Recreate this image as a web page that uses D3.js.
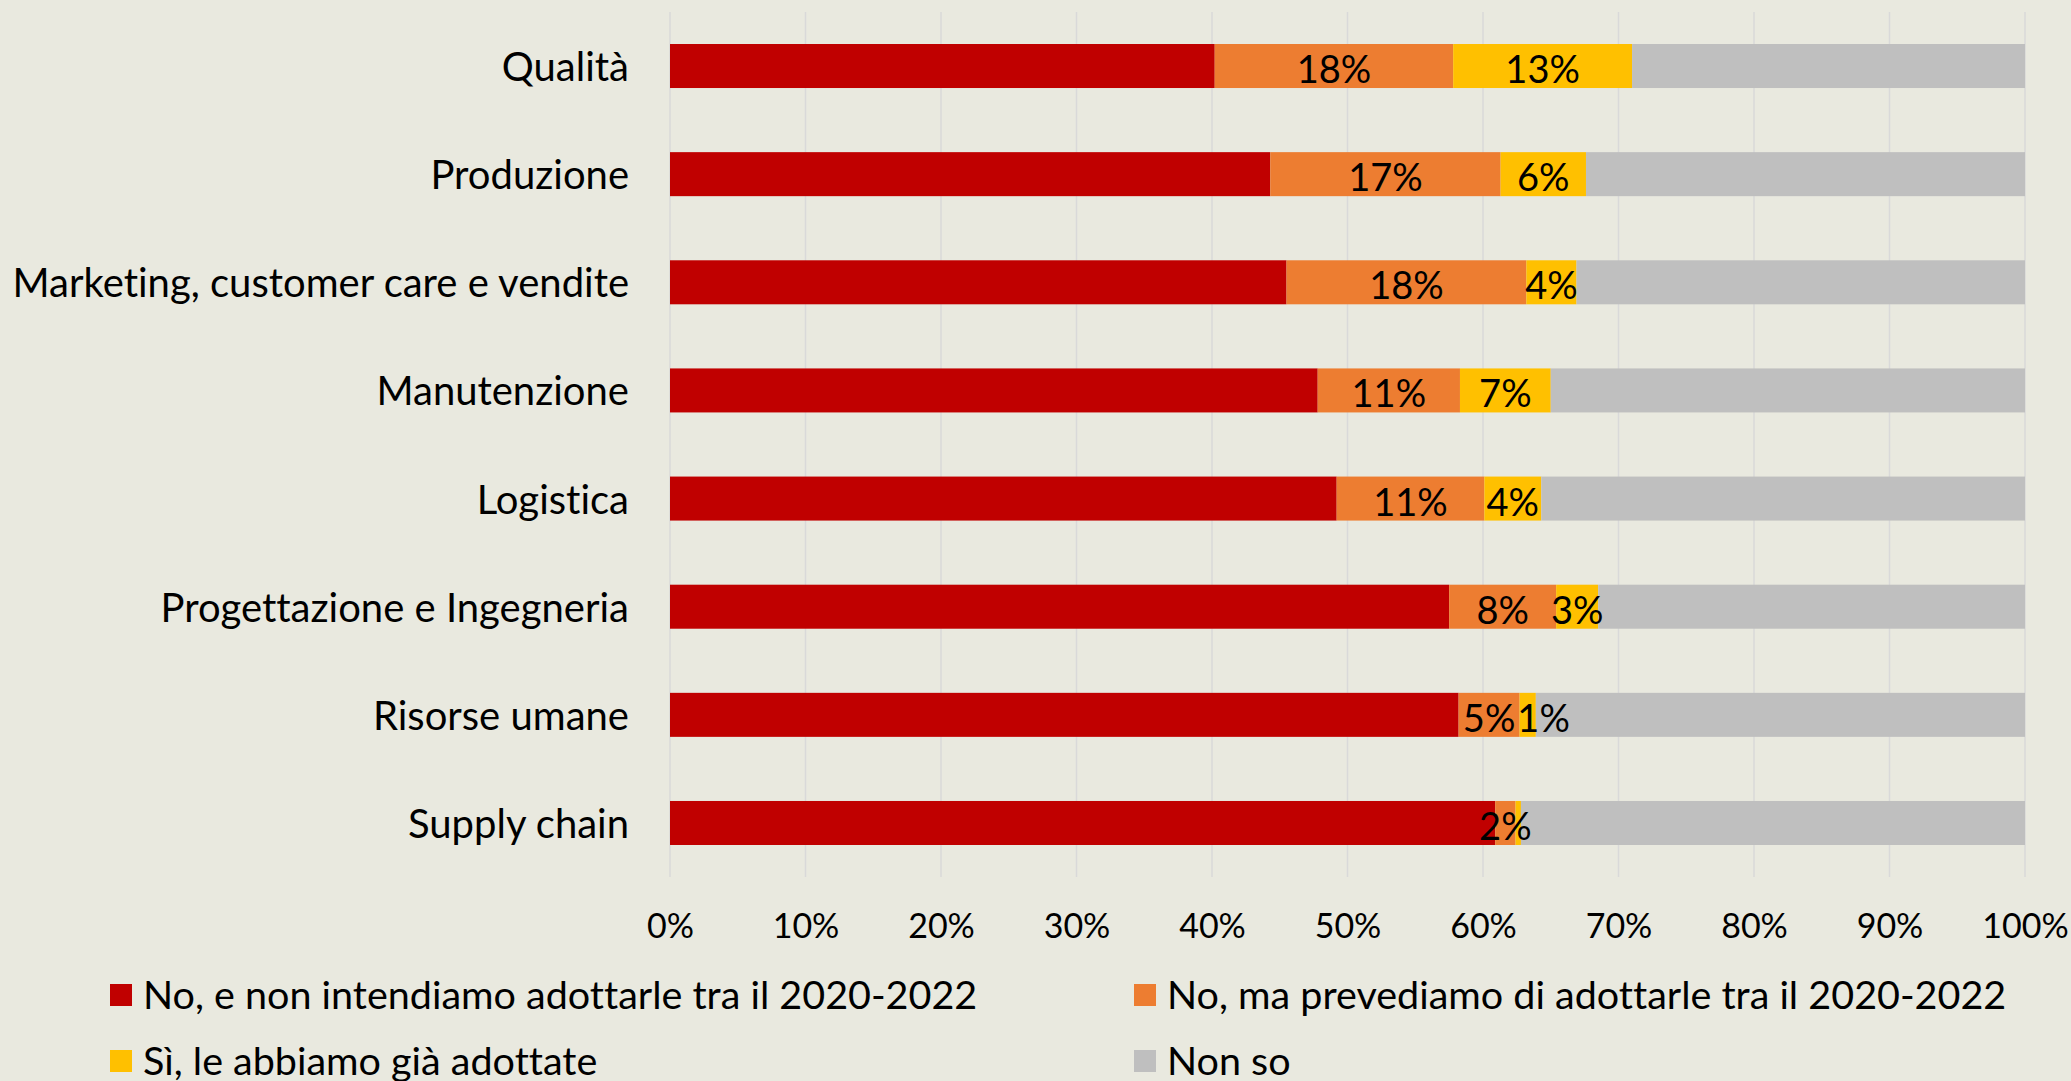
<!DOCTYPE html>
<html><head><meta charset="utf-8">
<script src="https://cdn.jsdelivr.net/npm/d3@7"></script>
<style>body{margin:0;background:#E9E9DF;} svg{display:block;} text{font-variant-ligatures:none;}</style>
</head><body>
<svg id="c" width="2071" height="1081"></svg>
<script>
const categories = ["Qualità","Produzione","Marketing, customer care e vendite","Manutenzione","Logistica","Progettazione e Ingegneria","Risorse umane","Supply chain"];
const seriesNames = ["No, e non intendiamo adottarle tra il 2020-2022","No, ma prevediamo di adottarle tra il 2020-2022","Sì, le abbiamo già adottate","Non so"];
const noNonIntend = [40.2, 44.3, 45.5, 47.8, 49.2, 57.5, 58.2, 60.9];
const noMaPrev    = [17.6, 17.0, 17.7, 10.5, 10.9, 7.9, 4.5, 1.5];
const siGia       = [13.2, 6.3, 3.7, 6.7, 4.2, 3.1, 1.2, 0.4];
const nonSo       = [29.0, 32.4, 33.1, 35.0, 35.7, 31.5, 36.1, 37.2];
const tickValues = [0,10,20,30,40,50,60,70,80,90,100];
const colors = ["#C00000","#ED7D31","#FFC000","#BFBFBF"];

const font = "Lato, 'Open Sans', sans-serif";
const svg = d3.select("#c");
const x = d3.scaleLinear().domain([0,100]).range([670,2025]);
const y = d3.scaleBand().domain(categories).range([12,877]).paddingInner(0.593).paddingOuter(0.296);

// gridlines
svg.append("g").selectAll("line").data(tickValues).join("line")
  .attr("x1",d=>x(d)).attr("x2",d=>x(d)).attr("y1",12).attr("y2",877)
  .attr("stroke","#D9D9D9").attr("stroke-width",1.5);

const series = [noNonIntend,noMaPrev,siGia,nonSo];
const rows = categories.map((c,i)=>{const o={cat:c}; series.forEach((s,j)=>o["s"+j]=s[i]); return o;});
const stack = d3.stack().keys(["s0","s1","s2","s3"])(rows);

stack.forEach((layer,j)=>{
  svg.append("g").selectAll("rect").data(layer).join("rect")
    .attr("x",d=>x(d[0])).attr("width",d=>x(Math.min(d[1],100))-x(d[0]))
    .attr("y",d=>y(d.data.cat)).attr("height",y.bandwidth())
    .attr("fill",colors[j]);
});
const labelG = svg.append("g");
const lastRight = {};
[1,2].forEach(j=>{
  labelG.append("g").selectAll("text").data(stack[j].filter(d=>Math.round(d[1]-d[0])>=1)).join("text")
    .attr("x",d=>x((d[0]+d[1])/2)).attr("y",d=>y(d.data.cat)+y.bandwidth()/2+2)
    .attr("text-anchor","middle").attr("dominant-baseline","central")
    .attr("font-family",font).attr("font-size",38).attr("fill","#000")
    .text(d=>Math.round(d[1]-d[0])+"%")
    .each(function(d){
      const w = this.getComputedTextLength();
      let cx = +this.getAttribute("x");
      const prev = lastRight[d.data.cat];
      if(prev!==undefined && cx - w/2 < prev + 2){ cx = prev + 2 + w/2; this.setAttribute("x",cx); }
      lastRight[d.data.cat] = cx + w/2;
    });
});

// category axis
svg.append("g").selectAll("text").data(categories).join("text")
  .attr("x",629).attr("y",d=>y(d)+y.bandwidth()/2)
  .attr("text-anchor","end").attr("dominant-baseline","central")
  .attr("font-family",font).attr("font-size",40).attr("fill","#000").text(d=>d);

// x axis labels
const xAxis = d3.axisBottom(x).tickValues(tickValues).tickFormat(d=>d+"%").tickSize(0).tickPadding(0);
const ax = svg.append("g").attr("transform","translate(0,924)").call(xAxis);
ax.select(".domain").remove();
ax.selectAll("text").attr("font-family",font).attr("font-size",34).attr("fill","#000")
  .attr("y",0).attr("dy",null).attr("dominant-baseline","central");

// legend
const legPos = [[110,995],[1134,995],[110,1061],[1134,1061]];
const lg = svg.append("g").selectAll("g").data(seriesNames).join("g")
  .attr("transform",(d,i)=>`translate(${legPos[i][0]},${legPos[i][1]})`);
lg.append("rect").attr("x",0).attr("y",-11).attr("width",22).attr("height",22).attr("fill",(d,i)=>colors[i]);
lg.append("text").attr("x",33).attr("y",-2).attr("dominant-baseline","central")
  .attr("font-family",font).attr("font-size",39.5).attr("fill","#000").text(d=>d);
</script>
</body></html>
